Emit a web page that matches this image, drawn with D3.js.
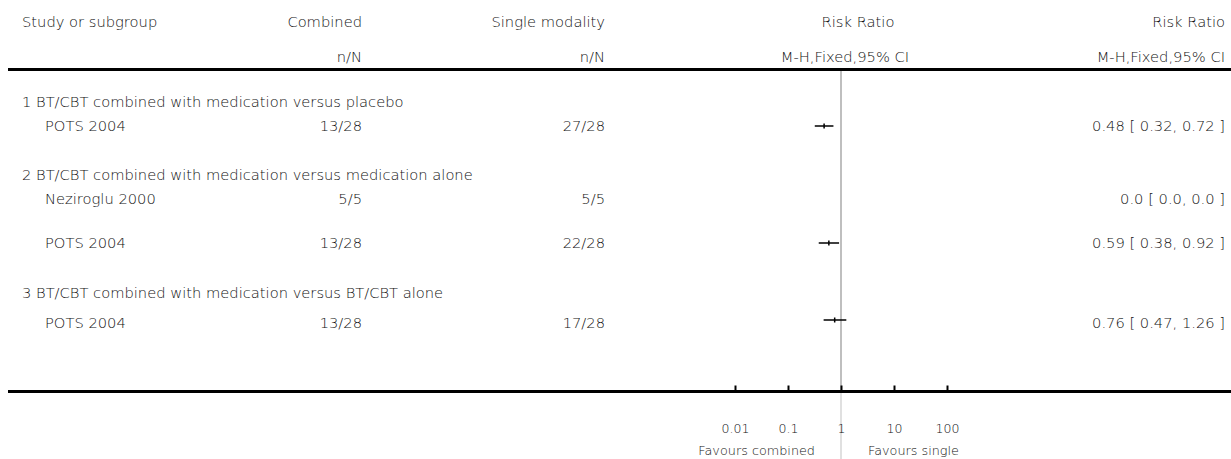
<!DOCTYPE html>
<html>
<head>
<meta charset="utf-8">
<script src="https://cdn.jsdelivr.net/npm/d3@7"></script>
<style>
  html, body { margin: 0; padding: 0; background: #fff; }
  svg text { font-family: "DejaVu Sans", sans-serif; font-weight: 200; font-size: 14.7px; fill: #111; }
</style>
</head>
<body>
<svg id="chart" width="1231" height="459"></svg>
<script>
// ---- data ----
const headers1 = ["Study or subgroup", "Combined", "Single modality", "Risk Ratio", "Risk Ratio"];
const headers2 = ["", "n/N", "n/N", "M-H,Fixed,95% CI", "M-H,Fixed,95% CI"];
const subgroups = [
  "1 BT/CBT combined with medication versus placebo",
  "2 BT/CBT combined with medication versus medication alone",
  "3 BT/CBT combined with medication versus BT/CBT alone"
];
const studyGroup = [0, 1, 1, 2];
const studyNames = ["POTS 2004", "Neziroglu 2000", "POTS 2004", "POTS 2004"];
const combinedNN = ["13/28", "5/5", "13/28", "13/28"];
const singleNN = ["27/28", "5/5", "22/28", "17/28"];
const rr = [0.48, null, 0.59, 0.76];
const ciLow = [0.32, null, 0.38, 0.47];
const ciHigh = [0.72, null, 0.92, 1.26];
const rrText = ["0.48 [ 0.32, 0.72 ]", "0.0 [ 0.0, 0.0 ]", "0.59 [ 0.38, 0.92 ]", "0.76 [ 0.47, 1.26 ]"];
const tickValues = [0.01, 0.1, 1, 10, 100];
const tickLabels = ["0.01", "0.1", "1", "10", "100"];
const favourLeft = "Favours combined";
const favourRight = "Favours single";

// ---- layout ----
const svg = d3.select("#chart");
const W = 1231;
const x = d3.scaleLog().domain([0.01, 100]).range([735, 947]);
const colStudy = 22, colStudyIndent = 45, colComb = 362, colSingle = 605, colRR = 1225;
const colPlot1 = 858, colPlot2 = 845;
const headerY1 = 27, headerY2 = 62, headerLineY = 69.5, axisY = 391.5;
const subgroupY = [107, 180, 298];
const studyY = [131, 204, 248, 328];
const markerY = [126, 204, 243, 320];

// header
const hx1 = [colStudy, colComb, colSingle, colPlot1, colRR];
const hx2 = [colStudy, colComb, colSingle, colPlot2, colRR];
const ha = ["start", "end", "end", "middle", "end"];
headers1.forEach((t, i) => svg.append("text").attr("x", hx1[i]).attr("y", headerY1).attr("text-anchor", ha[i]).text(t));
headers2.forEach((t, i) => { if (t) svg.append("text").attr("x", hx2[i]).attr("y", headerY2).attr("text-anchor", ha[i]).text(t); });

// vertical line of no effect
svg.append("line").attr("x1", x(1)).attr("x2", x(1)).attr("y1", headerLineY).attr("y2", axisY)
  .attr("stroke", "#aaa").attr("stroke-width", 1.5);
svg.append("line").attr("x1", x(1)).attr("x2", x(1)).attr("y1", axisY).attr("y2", 459)
  .attr("stroke", "#ccc").attr("stroke-width", 1.2);

// header rule
svg.append("line").attr("x1", 8).attr("x2", W).attr("y1", headerLineY).attr("y2", headerLineY)
  .attr("stroke", "#000").attr("stroke-width", 3);

// subgroups
subgroups.forEach((t, i) => svg.append("text").attr("x", colStudy).attr("y", subgroupY[i]).text(t));

// studies
studyNames.forEach((t, i) => {
  svg.append("text").attr("x", colStudyIndent).attr("y", studyY[i]).text(t);
  svg.append("text").attr("x", colComb).attr("y", studyY[i]).attr("text-anchor", "end").text(combinedNN[i]);
  svg.append("text").attr("x", colSingle).attr("y", studyY[i]).attr("text-anchor", "end").text(singleNN[i]);
  svg.append("text").attr("x", colRR).attr("y", studyY[i]).attr("text-anchor", "end").text(rrText[i]);
  if (rr[i] != null) {
    svg.append("line").attr("x1", x(ciLow[i])).attr("x2", x(ciHigh[i]))
      .attr("y1", markerY[i]).attr("y2", markerY[i]).attr("stroke", "#000").attr("stroke-width", 1.5);
    svg.append("rect").attr("x", x(rr[i]) - 0.75).attr("y", markerY[i] - 2.5)
      .attr("width", 1.5).attr("height", 5).attr("fill", "#000");
  }
});

// axis
const axis = d3.axisBottom(x).tickValues(tickValues).tickFormat((d, i) => tickLabels[i])
  .tickSizeInner(-6).tickSizeOuter(0).tickPadding(33);
const ag = svg.append("g").attr("transform", `translate(0,${axisY})`).call(axis);
ag.select(".domain").remove();
ag.selectAll(".tick line").attr("stroke", "#000").attr("stroke-width", 2);
ag.selectAll(".tick text").style("font-family", "'DejaVu Sans', sans-serif").style("font-weight", 200)
  .style("font-size", "12.5px").style("fill", "#111");
svg.append("line").attr("x1", 8).attr("x2", W).attr("y1", axisY).attr("y2", axisY)
  .attr("stroke", "#000").attr("stroke-width", 3);

// favours labels
svg.append("text").attr("x", x(1) - 26).attr("y", 455).attr("text-anchor", "end").style("font-size", "12.8px").text(favourLeft);
svg.append("text").attr("x", x(1) + 27).attr("y", 455).attr("text-anchor", "start").style("font-size", "12.8px").text(favourRight);
</script>
</body>
</html>
